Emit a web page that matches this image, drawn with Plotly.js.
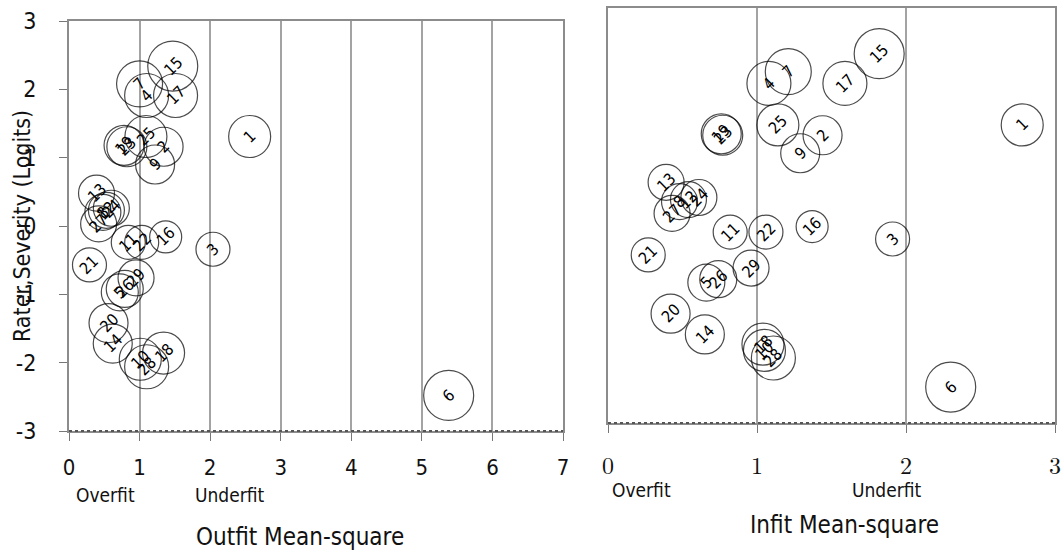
<!DOCTYPE html>
<html>
<head>
<meta charset="utf-8">
<script src="https://cdn.plot.ly/plotly-3.0.1.min.js"></script>
<style>
  html, body { margin: 0; padding: 0; background: #fff; }
  #chart { width: 1063px; height: 551px; }
</style>
</head>
<body>
<div id="chart"></div>
<script>
// Rater fit statistics: severity (logits), outfit and infit mean-squares
const raters = ["1","2","3","4","5","6","7","8","9","10","11","12","13","14","15",
                "16","17","18","19","20","21","22","23","24","25","26","27","28","29"];
const severity = [1.31, 1.16, -0.34, 1.91, -0.97, -2.48, 2.08, 0.20, 0.90, -1.95,
                  -0.24, 0.23, 0.48, -1.72, 2.34, -0.16, 1.91, -1.86, 1.18, -1.42,
                  -0.57, -0.24, 1.16, 0.26, 1.31, -0.92, 0.03, -2.06, -0.76];
const outfitMnSq = [2.56, 1.34, 2.04, 1.10, 0.72, 5.38, 1.00, 0.48, 1.22, 1.01,
                    0.84, 0.53, 0.39, 0.62, 1.47, 1.37, 1.51, 1.34, 0.78, 0.56,
                    0.29, 1.03, 0.82, 0.60, 1.09, 0.79, 0.42, 1.10, 0.95];
const infitMnSq = [2.78, 1.44, 1.91, 1.08, 0.66, 2.30, 1.21, 0.48, 1.29, 1.05,
                   0.82, 0.54, 0.39, 0.65, 1.82, 1.37, 1.59, 1.04, 0.76, 0.42,
                   0.27, 1.06, 0.77, 0.61, 1.14, 0.74, 0.43, 1.11, 0.96];
const bubbleSize = [42, 39, 34, 44, 37, 50, 46, 36, 39, 42,
                    34, 36, 36, 39, 50, 32, 44, 42, 40, 39,
                    34, 34, 40, 36, 42, 37, 36, 44, 36];
const outfitTicks = [0, 1, 2, 3, 4, 5, 6, 7];
const infitTicks = [0, 1, 2, 3];
const severityTicks = [-3, -2, -1, 0, 1, 2, 3];

const W = 1063, H = 551;
const sans = "DejaVu Sans Condensed, Liberation Sans Narrow, Arial Narrow, Liberation Sans, sans-serif";
const serif = "Latin Modern Roman, CMU Serif, DejaVu Serif, Liberation Serif, serif";
const gridGray = "#a3a3a3";
const axisGray = "#8c8c8c";

function bubbles(xs, xa, ya) {
  return {
    type: "scatter", mode: "markers",
    x: xs, y: severity, xaxis: xa, yaxis: ya,
    marker: {
      size: bubbleSize, sizemode: "diameter",
      color: "rgba(255,255,255,0)",
      line: { color: "#000", width: 1.2 }
    },
    cliponaxis: false,
    hoverinfo: "skip"
  };
}

function bubbleLabels(xs, xr, yr) {
  return raters.map((r, i) => ({
    x: xs[i], y: severity[i], xref: xr, yref: yr,
    text: r, showarrow: false, textangle: -45,
    font: { family: sans, size: 16, color: "#000" }
  }));
}

function px(x, y, text, size, opts) {
  return Object.assign({
    x: x / W, y: 1 - y / H, xref: "paper", yref: "paper",
    text: text, showarrow: false, xanchor: "center", yanchor: "middle",
    font: { family: sans, size: size, color: "#111" }
  }, opts || {});
}

// darker dotted baseline drawn over each panel's bottom edge
function baseline(xr, yr) {
  return {
    type: "line", xref: xr + " domain", yref: yr + " domain",
    x0: 0, x1: 1, y0: 0, y1: 0,
    line: { color: "#555", width: 2, dash: "dot" }
  };
}

const data = [
  bubbles(outfitMnSq, "x", "y"),
  bubbles(infitMnSq, "x2", "y2")
];

const layout = {
  width: W, height: H,
  margin: { l: 0, r: 0, t: 0, b: 0 },
  paper_bgcolor: "#fff", plot_bgcolor: "#fff",
  showlegend: false,
  xaxis: {
    domain: [69 / W, 563 / W], range: [0, 7], anchor: "y",
    tickvals: outfitTicks, ticktext: outfitTicks.map(String),
    showgrid: true, gridcolor: gridGray, gridwidth: 2, zeroline: false,
    showline: true, mirror: true, linecolor: axisGray, linewidth: 2,
    ticks: "outside", ticklen: 8, tickcolor: "#777", tickwidth: 1,
    ticklabelstandoff: 8,
    tickfont: { family: sans, size: 22, color: "#111" }
  },
  yaxis: {
    domain: [1 - 431 / H, 1 - 21 / H], range: [-3, 3], anchor: "x",
    tickvals: severityTicks, ticktext: severityTicks.map(String),
    showgrid: false, zeroline: false,
    showline: true, mirror: true, linecolor: axisGray, linewidth: 2,
    ticks: "outside", ticklen: 8, tickcolor: "#777", tickwidth: 1,
    ticklabelstandoff: 18,
    tickfont: { family: sans, size: 23, color: "#111" }
  },
  xaxis2: {
    domain: [608 / W, 1055 / W], range: [0, 3], anchor: "y2",
    tickvals: infitTicks, ticktext: infitTicks.map(String),
    showgrid: true, gridcolor: gridGray, gridwidth: 2, zeroline: false,
    showline: true, mirror: true, linecolor: axisGray, linewidth: 2,
    ticks: "outside", ticklen: 8, tickcolor: "#777", tickwidth: 1,
    ticklabelstandoff: 12,
    tickfont: { family: serif, size: 24, color: "#111" }
  },
  yaxis2: {
    domain: [1 - 423 / H, 1 - 8 / H], range: [-3, 3], anchor: "x2",
    showgrid: false, zeroline: false, showticklabels: false, ticks: "",
    showline: true, mirror: true, linecolor: axisGray, linewidth: 2
  },
  shapes: [baseline("x", "y"), baseline("x2", "y2")],
  annotations: [
    ...bubbleLabels(outfitMnSq, "x", "y"),
    ...bubbleLabels(infitMnSq, "x2", "y2"),
    px(105, 495, "Overfit", 19),
    px(230, 495, "Underfit", 19),
    px(300, 537, "Outfit Mean-square", 24),
    px(22, 226, "Rater,Severity (Logits)", 23, { textangle: -90 }),
    px(641, 490, "Overfit", 19),
    px(887, 490, "Underfit", 19),
    px(844, 525, "Infit Mean-square", 24)
  ]
};

Plotly.newPlot("chart", data, layout, { staticPlot: true, displayModeBar: false });
</script>
</body>
</html>
